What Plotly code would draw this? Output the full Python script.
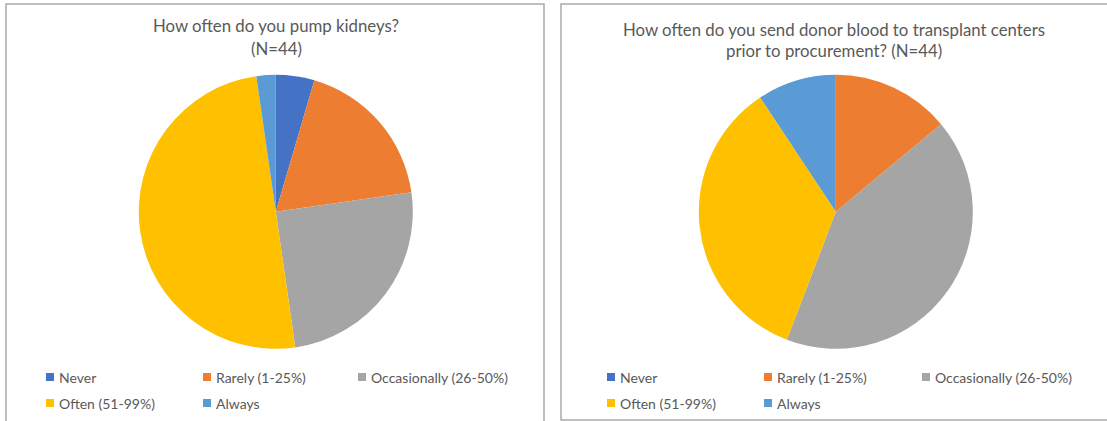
import plotly.graph_objects as go

W, H = 1107, 421

categories = ["Never", "Rarely (1-25%)", "Occasionally (26-50%)", "Often (51-99%)", "Always"]
colors = ["#4472C4", "#ED7D31", "#A5A5A5", "#FFC000", "#5B9BD5"]
pump_counts = [2, 8, 11, 22, 1]
blood_counts = [0, 6, 18, 15, 4]

title_left = ["How often do you pump kidneys?", "(N=44)"]
title_right = ["How often do you send donor blood to transplant centers", "prior to procurement? (N=44)"]

FONT = "Lato"
TXT = "#595959"


def px(x):
    return x / W


def py(y):
    return 1 - y / H


def pie_domain(cx, cy, r):
    return dict(x=[px(cx - r), px(cx + r)], y=[py(cy + r), py(cy - r)])


fig = go.Figure()
fig.add_trace(go.Pie(labels=categories, values=pump_counts, sort=False, direction="clockwise",
                     rotation=0, marker=dict(colors=colors), textinfo="none",
                     domain=pie_domain(275.8, 211.8, 137), showlegend=False, hoverinfo="label+value"))
fig.add_trace(go.Pie(labels=categories, values=blood_counts, sort=False, direction="clockwise",
                     rotation=0, marker=dict(colors=colors), textinfo="none",
                     domain=pie_domain(835.8, 211.8, 137), showlegend=False, hoverinfo="label+value"))

shapes = []
annotations = []

# panel borders
border = dict(color="#ABABAB", width=1.5)
shapes.append(dict(type="path", xref="paper", yref="paper",
                   path=f"M {px(6)} {py(440)} L {px(6)} {py(4)} L {px(544)} {py(4)} L {px(544)} {py(440)}",
                   line=border))
shapes.append(dict(type="path", xref="paper", yref="paper",
                   path=f"M {px(1120)} {py(420)} L {px(561)} {py(420)} L {px(561)} {py(4)} L {px(1120)} {py(4)}",
                   line=border))


def add_title(lines, cx, ys):
    for t, y in zip(lines, ys):
        annotations.append(dict(text=t, x=px(cx), y=py(y), xref="paper", yref="paper",
                                xanchor="center", yanchor="middle", showarrow=False,
                                font=dict(family=FONT, size=16.8, color=TXT)))


add_title(title_left, 276, [26, 48])
add_title(title_right, 834, [29, 51])


def add_legend(cols, rows):
    for i, (lab, col) in enumerate(zip(categories, colors)):
        x = cols[i % 3]
        y = rows[i // 3]
        shapes.append(dict(type="rect", xref="paper", yref="paper",
                           x0=px(x), x1=px(x + 8), y0=py(y + 4), y1=py(y - 4),
                           fillcolor=col, line=dict(width=0)))
        annotations.append(dict(text=lab, x=px(x + 11), y=py(y), xref="paper", yref="paper",
                                xanchor="left", yanchor="middle", showarrow=False,
                                font=dict(family=FONT, size=14, color=TXT)))


add_legend([46, 203, 358], [377, 403])
add_legend([607, 764, 922], [377, 403])

fig.update_layout(width=W, height=H, margin=dict(l=0, r=0, t=0, b=0),
                  paper_bgcolor="white", plot_bgcolor="white",
                  shapes=shapes, annotations=annotations)

fig.write_html("out.html", config={"displayModeBar": False},
               post_script="document.body.style.margin='0';document.body.style.overflow='hidden';")
